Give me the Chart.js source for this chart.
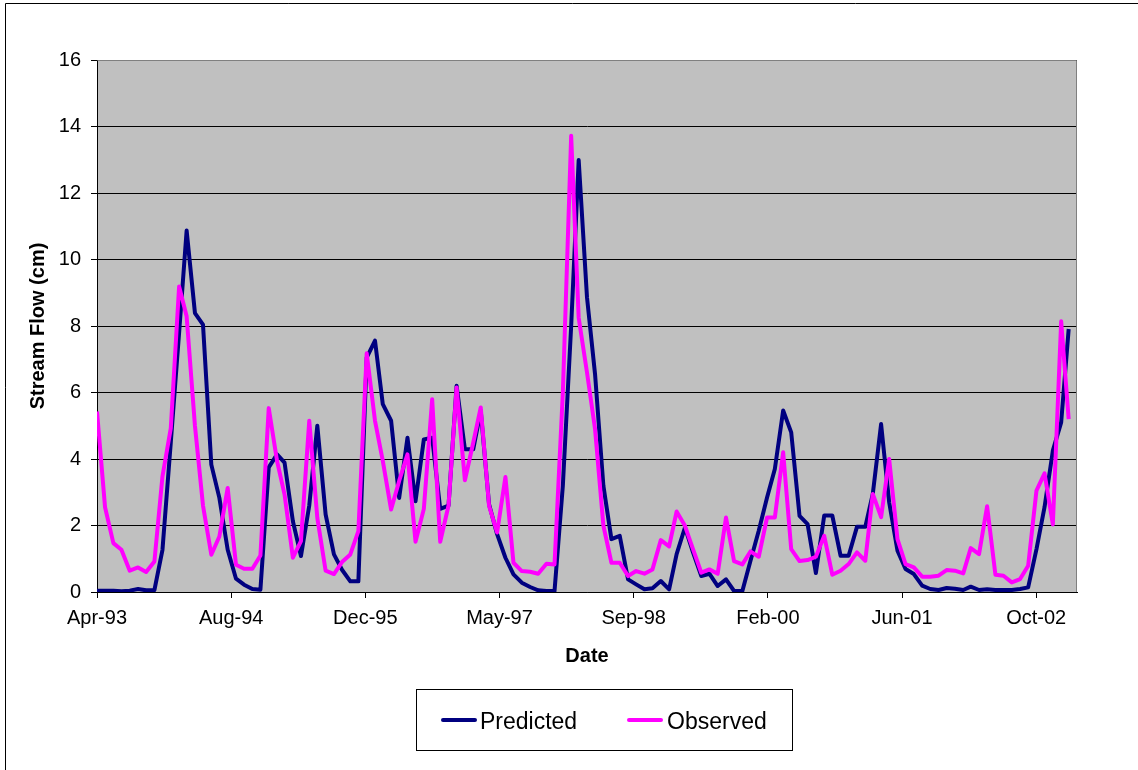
<!DOCTYPE html>
<html>
<head>
<meta charset="utf-8">
<script src="https://cdn.jsdelivr.net/npm/chart.js@4.4.1/dist/chart.umd.min.js"></script>
<style>
  body { margin: 0; background: #fff; }
  #wrap { position: relative; width: 1138px; height: 770px; }
</style>
</head>
<body>
<div id="wrap"><canvas id="chart" width="1138" height="770"></canvas></div>
<script>
// monthly values, Apr-93 .. Mar-03
var predicted = [
  0.04, 0.04, 0.04, 0.02, 0.04, 0.09, 0.05, 0.06, 1.27, 4.5,
  7.8, 10.87, 8.39, 8.04, 3.83, 2.83, 1.27, 0.4, 0.22, 0.09,
  0.07, 3.75, 4.14, 3.89, 2.13, 1.08, 2.6, 5.0, 2.33, 1.13,
  0.67, 0.32, 0.32, 7.05, 7.56, 5.65, 5.15, 2.83, 4.64, 2.73,
  4.59, 4.64, 2.5, 2.6, 6.2, 4.29, 4.29, 5.45, 2.64, 1.74,
  1.03, 0.53, 0.28, 0.15, 0.05, 0.03, 0.03, 3.2, 8.0, 12.99,
  8.86, 6.55, 3.2, 1.59, 1.69, 0.38, 0.23, 0.08, 0.11, 0.33,
  0.08, 1.14, 1.94, 1.19, 0.48, 0.55, 0.18, 0.38, 0.03, 0.03,
  0.93, 1.84, 2.84, 3.7, 5.46, 4.8, 2.29, 2.04, 0.57, 2.3,
  2.3, 1.09, 1.09, 1.96, 1.96, 2.95, 5.05, 2.7, 1.24, 0.69,
  0.54, 0.19, 0.09, 0.06, 0.12, 0.1, 0.06, 0.16, 0.06, 0.08,
  0.06, 0.06, 0.06, 0.09, 0.14, 1.29, 2.55, 4.25, 5.1, 7.91
];
var observed = [
  5.43, 2.55, 1.47, 1.27, 0.64, 0.74, 0.6, 0.92, 3.48, 4.93,
  9.19, 8.29, 5.0, 2.6, 1.12, 1.67, 3.13, 0.82, 0.7, 0.7,
  1.1, 5.53, 3.94, 2.93, 1.03, 1.53, 5.15, 2.23, 0.64, 0.54,
  0.9, 1.13, 1.83, 7.18, 5.15, 3.94, 2.48, 3.34, 4.14, 1.51,
  2.5, 5.8, 1.51, 2.6, 6.15, 3.36, 4.49, 5.55, 2.59, 1.79,
  3.46, 0.88, 0.63, 0.61, 0.55, 0.85, 0.83, 6.0, 13.72, 8.25,
  6.6, 4.9, 2.0, 0.88, 0.88, 0.48, 0.63, 0.55, 0.68, 1.56,
  1.37, 2.42, 1.99, 1.29, 0.58, 0.68, 0.55, 2.24, 0.93, 0.83,
  1.22, 1.06, 2.24, 2.24, 4.2, 1.29, 0.93, 0.96, 1.06, 1.69,
  0.52, 0.64, 0.84, 1.19, 0.94, 2.95, 2.25, 4.0, 1.59, 0.84,
  0.74, 0.46, 0.46, 0.49, 0.66, 0.64, 0.56, 1.32, 1.14, 2.58,
  0.52, 0.49, 0.29, 0.39, 0.79, 3.05, 3.57, 2.03, 8.14, 5.2
];

var seriesNames = ['Predicted', 'Observed'];
var seriesColors = ['#000080', '#FF00FF'];

// date axis: days since 1-Apr-1993, labels every 500 days
var tickDays = [0, 500, 1000, 1500, 2000, 2500, 3000, 3500];
var tickLabels = ['Apr-93', 'Aug-94', 'Dec-95', 'May-97', 'Sep-98', 'Feb-00', 'Jun-01', 'Oct-02'];
var lastDay = 3652;

var startDate = Date.UTC(1993, 3, 1);
function dayOfMonth(i) {
  return (Date.UTC(1993, 3 + i, 1) - startDate) / 86400000;
}
function toPoints(values) {
  return values.map(function (v, i) { return { x: dayOfMonth(i), y: v }; });
}

var FONT = 'Liberation Sans, Arial, sans-serif';

var framePlugin = {
  id: 'frame',
  beforeDraw: function (chart) {
    var ctx = chart.ctx, a = chart.chartArea;
    ctx.save();
    ctx.fillStyle = '#fff';
    ctx.fillRect(0, 0, chart.width, chart.height);
    ctx.strokeStyle = '#000';
    ctx.lineWidth = 1;
    ctx.beginPath();
    ctx.moveTo(5.5, chart.height + 2);
    ctx.lineTo(5.5, 3.5);
    ctx.lineTo(chart.width + 2, 3.5);
    ctx.stroke();
    ctx.fillStyle = '#C0C0C0';
    ctx.fillRect(a.left, a.top, a.right - a.left, a.bottom - a.top);
    ctx.restore();
  },
  beforeDatasetsDraw: function (chart) {
    var ctx = chart.ctx, a = chart.chartArea;
    ctx.save();
    ctx.strokeStyle = '#808080';
    ctx.lineWidth = 1;
    ctx.beginPath();
    ctx.moveTo(Math.round(a.left) + 0.5, Math.round(a.top) + 0.5);
    ctx.lineTo(Math.round(a.right) - 0.5, Math.round(a.top) + 0.5);
    ctx.lineTo(Math.round(a.right) - 0.5, Math.round(a.bottom));
    ctx.stroke();
    ctx.restore();
  },
  afterDraw: function (chart) {
    var ctx = chart.ctx;
    ctx.save();
    ctx.strokeStyle = '#000';
    ctx.lineWidth = 1;
    ctx.strokeRect(416.5, 689.5, 376, 61);
    var lineX = [443, 629];
    var textX = [480, 667];
    ctx.font = '23px ' + FONT;
    ctx.textBaseline = 'alphabetic';
    ctx.fillStyle = '#000';
    for (var k = 0; k < seriesNames.length; k++) {
      ctx.strokeStyle = seriesColors[k];
      ctx.lineWidth = 4;
      ctx.lineCap = 'round';
      ctx.beginPath();
      ctx.moveTo(lineX[k], 720);
      ctx.lineTo(lineX[k] + 32, 720);
      ctx.stroke();
      ctx.fillText(seriesNames[k], textX[k], 729);
    }
    ctx.restore();
  }
};

var config = {
  type: 'line',
  data: {
    datasets: [{
      label: seriesNames[0],
      data: toPoints(predicted),
      borderColor: seriesColors[0],
      backgroundColor: seriesColors[0],
      borderWidth: 4,
      pointRadius: 0,
      tension: 0,
      borderJoinStyle: 'round',
      order: 1
    }, {
      label: seriesNames[1],
      data: toPoints(observed),
      borderColor: seriesColors[1],
      backgroundColor: seriesColors[1],
      borderWidth: 4,
      pointRadius: 0,
      tension: 0,
      borderJoinStyle: 'round',
      order: 0
    }]
  },
  options: {
    responsive: false,
    devicePixelRatio: 1,
    animation: false,
    layout: { padding: { left: 0, top: 60, right: 61, bottom: 78 } },
    plugins: {
      legend: { display: false },
      tooltip: { enabled: false }
    },
    scales: {
      x: {
        type: 'linear',
        min: 0,
        max: lastDay,
        afterBuildTicks: function (scale) {
          scale.ticks = tickDays.map(function (d) { return { value: d }; });
        },
        afterFit: function (scale) { scale.height = 100; },
        ticks: {
          autoSkip: false,
          maxRotation: 0,
          color: '#000',
          padding: 8,
          font: { family: FONT, size: 20 },
          callback: function (value, index) { return tickLabels[index]; }
        },
        grid: { drawOnChartArea: false, drawTicks: true, tickLength: 6, color: '#000' },
        border: { display: true, color: '#000', width: 1 },
        title: {
          display: true,
          text: 'Date',
          color: '#000',
          font: { family: FONT, size: 20, weight: 'bold' },
          padding: { top: 0, bottom: 24 }
        }
      },
      y: {
        min: 0,
        max: 16,
        afterFit: function (scale) { scale.width = 97; },
        ticks: {
          stepSize: 2,
          color: '#000',
          padding: 10,
          font: { family: FONT, size: 20 }
        },
        grid: { color: '#000', lineWidth: 1, drawTicks: true, tickLength: 6 },
        border: { display: true, color: '#000', width: 1 },
        title: {
          display: true,
          text: 'Stream Flow (cm)',
          color: '#000',
          font: { family: FONT, size: 20, weight: 'bold' },
          padding: { top: 26, bottom: 0 }
        }
      }
    }
  },
  plugins: [framePlugin]
};

window.myChart = new Chart(document.getElementById('chart'), config);
</script>
</body>
</html>
